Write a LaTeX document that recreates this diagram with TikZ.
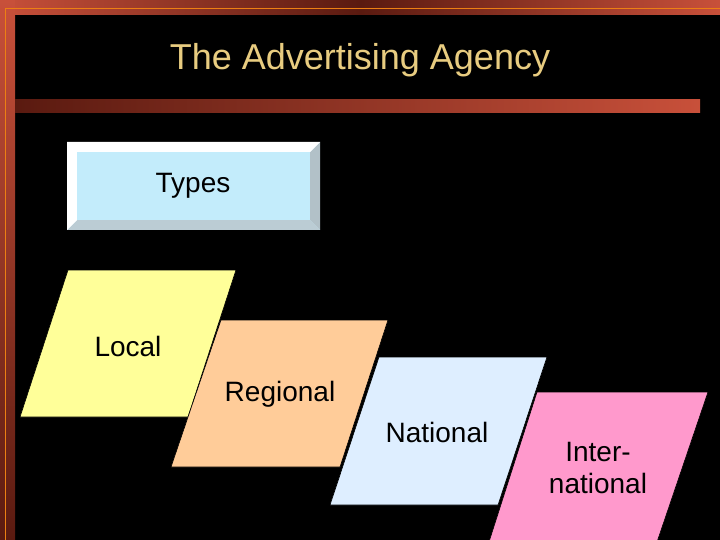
\documentclass[tikz,border=0pt]{standalone}
\usepackage{fontspec}
\setmainfont{Liberation Sans}
\begin{document}
\begin{tikzpicture}[x=1pt,y=-1pt,
  lbl/.style={font=\fontsize{28}{32}\selectfont, text=black, align=center},
  para/.style={draw=black, line width=0.6pt}]
\definecolor{brd}{HTML}{C8503A}
\definecolor{brdd}{HTML}{5A1A10}
\definecolor{ttl}{HTML}{E8CC80}
\useasboundingbox (0,0) rectangle (720,540);
\fill[black] (0,0) rectangle (720,540);
% frame
\shade[left color=brd, right color=brd, middle color=brdd] (0,0) rectangle (720,15);
\shade[top color=brd, bottom color=brdd] (0,0) rectangle (15,540);
\draw[orange!70!brown, line width=0.6pt] (5,540) -- (5,8) -- (720,8);
% title bar
\shade[left color=brdd, right color=brd] (15,100) rectangle (700,113);
\node[font=\fontsize{36}{40}\selectfont, text=ttl] (title) at (360,60) {The Advertising Agency};
% Types box
\fill[cyan!5!white!80!cyan] (67,142) rectangle (320,230);
\fill[cyan!20!gray!60!white] (320,142) -- (320,230) -- (310,220) -- (310,152) -- cycle;
\fill[cyan!25!gray!50!white] (67,230) -- (320,230) -- (310,220) -- (77,220) -- cycle;
\fill[white] (67,142) -- (320,142) -- (310,152) -- (77,152) -- (77,220) -- (67,230) -- cycle;
\fill[cyan!10!white!85!cyan] (77,152) rectangle (310,220);
\node[lbl] (types) at (193,186) {Types};
% parallelograms
\fill[para, fill={rgb,255:red,255;green,255;blue,153}] (68,270) -- (236,270) -- (188,417) -- (20,417) -- cycle;
\node[lbl] (local) at (128,346) {Local};
\fill[para, fill={rgb,255:red,255;green,204;blue,153}] (221,320) -- (388,320) -- (340,467) -- (171,467) -- cycle;
\node[lbl] (regional) at (280,394) {Regional};
\fill[para, fill={rgb,255:red,222;green,238;blue,255}] (379,357) -- (547,357) -- (498,505) -- (330,505) -- cycle;
\node[lbl] (national) at (437,432) {National};
\fill[para, fill={rgb,255:red,255;green,153;blue,204}] (537,392) -- (708,392) -- (656,545) -- (488,545) -- cycle;
\node[lbl, text width=200pt] (intl) at (598,468) {Inter-\\national};
\end{tikzpicture}
\end{document}
